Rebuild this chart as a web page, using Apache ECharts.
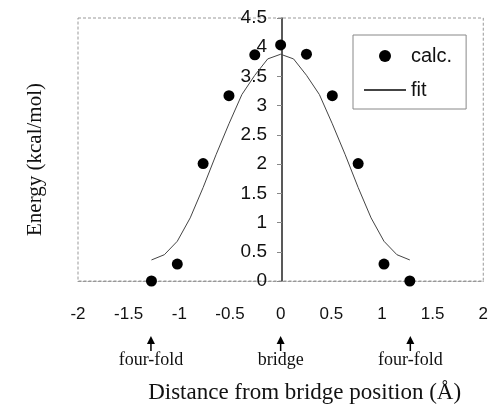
<!DOCTYPE html>
<html><head><meta charset="utf-8">
<script src="https://cdn.jsdelivr.net/npm/echarts@6/dist/echarts.min.js"></script>
<style>html,body{margin:0;padding:0;background:#fff}#c{width:491px;height:409px}</style>
</head><body><div id="c"></div>
<script>
const calcX = [-1.275, -1.02, -0.765, -0.51, -0.255, 0, 0.255, 0.51, 0.765, 1.02, 1.275];
const calcY = [0, 0.29, 2.01, 3.17, 3.87, 4.04, 3.88, 3.17, 2.01, 0.29, 0];
const fitX = [-1.275, -1.1475, -1.02, -0.8925, -0.765, -0.6375, -0.51, -0.3825, -0.255, -0.1275, 0,
              0.1275, 0.255, 0.3825, 0.51, 0.6375, 0.765, 0.8925, 1.02, 1.1475, 1.275];
const fitY = [0.36, 0.45, 0.68, 1.08, 1.60, 2.16, 2.69, 3.19, 3.52, 3.80, 3.88,
              3.80, 3.52, 3.19, 2.69, 2.16, 1.60, 1.08, 0.68, 0.45, 0.36];
const annX = [-1.28, 0, 1.28];
const annText = ['four-fold', 'bridge', 'four-fold'];
const xTicks = {min: -2, max: 2, step: 0.5};
const yTicks = {min: 0, max: 4.5, step: 0.5};

const W = 491, gridL = 78, gridR = 5;
const gridW = W - gridL - gridR;
// y axis sits at x = 0 (middle of x range)
const yOffset = -gridW * (0 - xTicks.min) / (xTicks.max - xTicks.min);

const chart = echarts.init(document.getElementById('c'), null, {renderer: 'canvas'});
const serif = '"Liberation Serif", "DejaVu Serif", serif';
const sans = '"Liberation Sans", Arial, sans-serif';
chart.setOption({
  animation: false,
  backgroundColor: '#fff',
  grid: {left: gridL, right: gridR, top: 18, bottom: 126, show: true,
         borderColor: '#999', borderWidth: 1, borderType: [3, 2]},
  legend: {
    orient: 'vertical', left: 353, top: 35,
    padding: [11, 14, 9, 10], itemGap: 14, itemWidth: 42, itemHeight: 12,
    borderColor: '#888', borderWidth: 1, backgroundColor: '#fff',
    textStyle: {fontFamily: sans, fontSize: 20, color: '#111'},
    data: [{name: 'calc.', icon: 'circle'}, {name: 'fit', itemStyle: {opacity: 0}}]
  },
  xAxis: {
    type: 'value', min: xTicks.min, max: xTicks.max, interval: xTicks.step,
    axisLine: {onZero: false, lineStyle: {color: '#999', type: [3, 2], width: 1}},
    axisTick: {show: false},
    splitLine: {show: false},
    axisLabel: {margin: 25, fontFamily: sans, fontSize: 17, color: '#111'},
    name: 'Distance from bridge position (Å)', nameLocation: 'middle', nameGap: 100,
    nameTextStyle: {fontFamily: serif, fontSize: 23, color: '#111', padding: [0, 0, 0, 48]}
  },
  yAxis: {
    type: 'value', min: yTicks.min, max: yTicks.max, interval: yTicks.step,
    offset: yOffset,
    axisLine: {show: true, onZero: false, lineStyle: {color: '#222', width: 1.5}},
    axisTick: {show: true, length: 5, lineStyle: {color: '#888'}},
    splitLine: {show: false},
    axisLabel: {margin: 15, fontFamily: sans, fontSize: 19, color: '#111'},
    name: 'Energy (kcal/mol)', nameLocation: 'middle', nameRotate: 90, nameGap: 236,
    nameTextStyle: {fontFamily: serif, fontSize: 21, color: '#111', padding: [0, 20, 0, 0]}
  },
  series: [
    {name: 'fit', type: 'line', data: fitX.map((x, i) => [x, fitY[i]]),
     showSymbol: false, symbol: 'none', smooth: false, z: 2,
     lineStyle: {color: '#444', width: 1}, itemStyle: {color: '#444'}},
    {name: 'calc.', type: 'scatter', data: calcX.map((x, i) => [x, calcY[i]]),
     symbol: 'circle', symbolSize: 11, z: 3, itemStyle: {color: '#000', opacity: 1}},
    {name: 'ann', type: 'custom', clip: false, silent: true, z: 5,
     data: annX.map((x, i) => [x, 0, i]),
     renderItem: function (params, api) {
       const p = api.coord([api.value(0), 0]);
       const i = api.value(2);
       const top = p[1] + 55;
       return {type: 'group', children: [
         {type: 'polygon', shape: {points: [[p[0], top], [p[0] - 4, top + 8], [p[0] + 4, top + 8]]},
          style: {fill: '#000'}},
         {type: 'line', shape: {x1: p[0], y1: top + 7, x2: p[0], y2: top + 15},
          style: {stroke: '#000', lineWidth: 1.5}},
         {type: 'text', x: p[0], y: top + 24,
          style: {text: annText[i], fontFamily: serif, fontSize: 18, fill: '#111',
                  align: 'center', verticalAlign: 'middle'}}
       ]};
     }}
  ]
});
</script></body></html>
